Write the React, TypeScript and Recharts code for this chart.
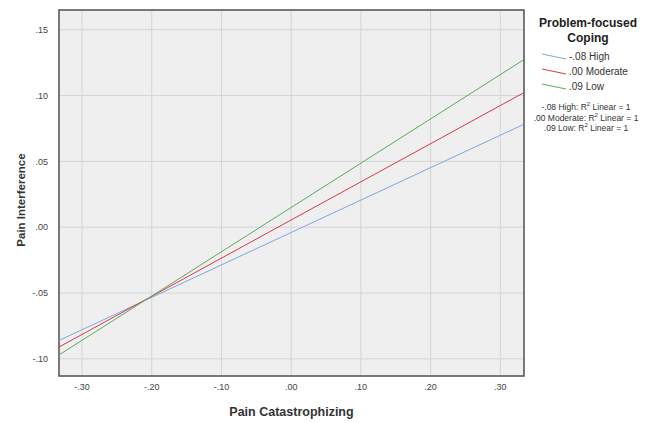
import React from 'react';
import { LineChart, Line, XAxis, YAxis, CartesianGrid, ReferenceArea } from 'recharts';

// Pain catastrophizing at the two ends of the plotted range
const xValues = [-0.333, 0.333];
// Predicted pain interference per coping level
const highValues = [-0.086, 0.078];
const moderateValues = [-0.091, 0.102];
const lowValues = [-0.097, 0.127];

const xTicks = [-0.3, -0.2, -0.1, 0, 0.1, 0.2, 0.3];
const yTicks = [-0.1, -0.05, 0, 0.05, 0.1, 0.15];
const xDomain = [-0.333, 0.334];
const yDomain = [-0.113, 0.165];

const seriesNames = ['-.08 High', '.00 Moderate', '.09 Low'];
const fitLabels = ['-.08 High', '.00 Moderate', '.09 Low'];
const colors = ['#7ea6e0', '#d6394c', '#5aaa5a'];

const data = xValues.map((x, i) => ({
  x,
  high: highValues[i],
  moderate: moderateValues[i],
  low: lowValues[i],
}));

const fmt = (v: number) => v.toFixed(2).replace(/^(-?)0/, '$1');

const font = '"Liberation Sans", Arial, sans-serif';

const YLabel = ({ viewBox }: any) => {
  const cx = 21;
  const cy = viewBox.y + viewBox.height / 2 + 7;
  return (
    <text x={cx} y={cy} transform={`rotate(-90 ${cx} ${cy})`} textAnchor="middle" dominantBaseline="central"
      style={{ fontSize: 11.5, fontWeight: 'bold', fill: '#333', fontFamily: font }}>
      Pain Interference
    </text>
  );
};

export default function App() {
  return (
    <div style={{ position: 'absolute', left: 0, top: 0, width: 650, height: 423, background: '#fff', fontFamily: font }}>
      <LineChart width={650} height={423} data={data} margin={{ top: 10, right: 126, bottom: 0, left: 0 }}>
        <CartesianGrid fill="#efefef" stroke="#d4d4d4" />
        <XAxis
          dataKey="x"
          type="number"
          domain={xDomain}
          ticks={xTicks}
          tickFormatter={fmt}
          allowDataOverflow
          height={47}
          tickLine={false}
          axisLine={false}
          tickSize={6}
          tickMargin={2}
          tick={{ fontSize: 9, fill: '#444', fontFamily: font }}
          label={{ value: 'Pain Catastrophizing', position: 'insideBottom', offset: 7, style: { fontSize: 12.5, fontWeight: 'bold', fill: '#333', fontFamily: font } }}
        />
        <YAxis
          type="number"
          domain={yDomain}
          ticks={yTicks}
          tickFormatter={fmt}
          allowDataOverflow
          width={59}
          tickLine={false}
          axisLine={false}
          tickSize={9}
          tickMargin={2}
          tick={{ fontSize: 9, fill: '#444', fontFamily: font }}
          label={<YLabel />}
        />
        <ReferenceArea x1={xDomain[0]} x2={xDomain[1]} y1={yDomain[0]} y2={yDomain[1]} fill="none" stroke="#555" strokeWidth={1.5} ifOverflow="visible" />
        <Line dataKey="high" type="linear" stroke={colors[0]} strokeWidth={1} dot={false} isAnimationActive={false} />
        <Line dataKey="moderate" type="linear" stroke={colors[1]} strokeWidth={1} dot={false} isAnimationActive={false} />
        <Line dataKey="low" type="linear" stroke={colors[2]} strokeWidth={1} dot={false} isAnimationActive={false} />
      </LineChart>

      {/* legend */}
      <div style={{ position: 'absolute', left: 526, top: 16, width: 124, textAlign: 'center', fontSize: 12, fontWeight: 'bold', color: '#222', lineHeight: '15px' }}>
        Problem-focused<br />Coping
      </div>
      {seriesNames.map((name, i) => (
        <div key={name} style={{ position: 'absolute', left: 541, top: 50 + i * 15, display: 'flex', alignItems: 'center', fontSize: 10, color: '#333' }}>
          <svg width={28} height={12}>
            <line x1={1} y1={4} x2={25} y2={9} stroke={colors[i]} strokeWidth={1} />
          </svg>
          <span>{name}</span>
        </div>
      ))}
      {fitLabels.map((name, i) => (
        <div key={name} style={{ position: 'absolute', left: 526, top: 101 + i * 10.5, width: 120, textAlign: 'center', fontSize: 8.5, color: '#333', whiteSpace: 'nowrap' }}>
          {name}: R<sup style={{ fontSize: 6 }}>2</sup> Linear = 1
        </div>
      ))}
    </div>
  );
}
